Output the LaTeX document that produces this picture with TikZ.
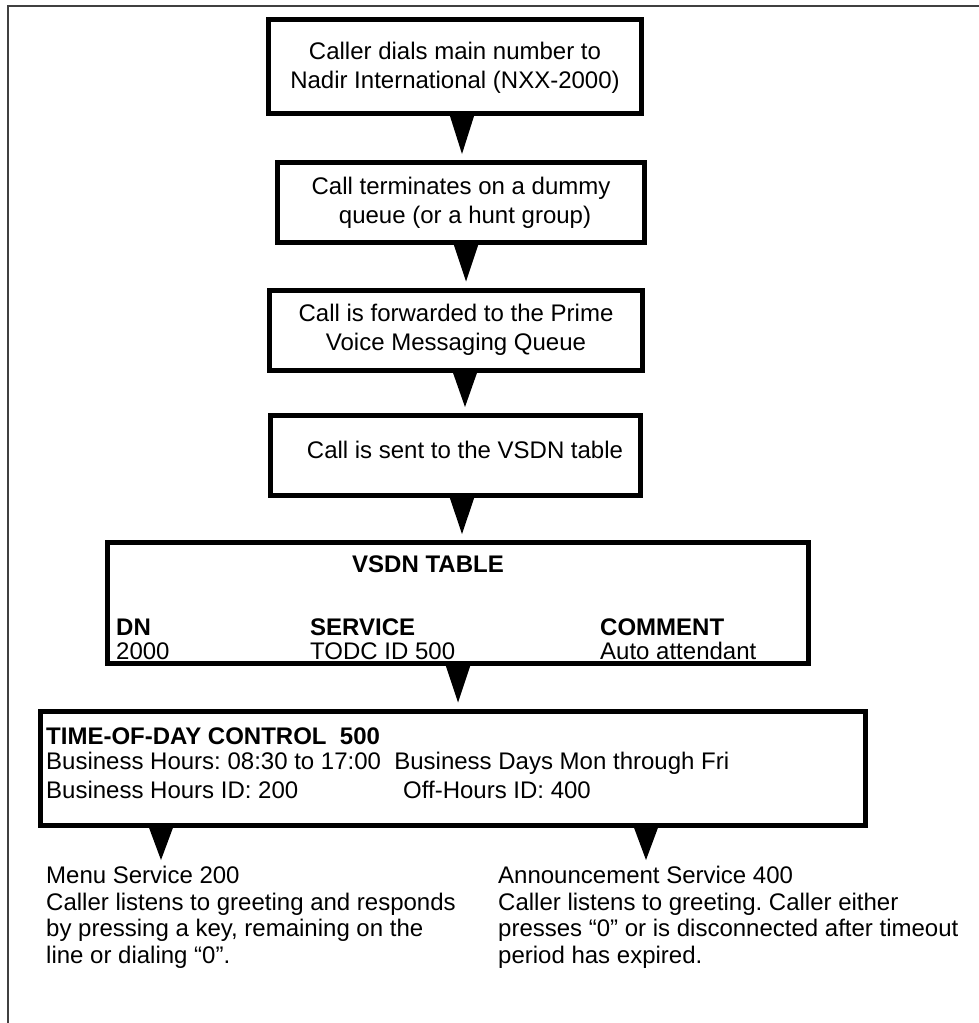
\documentclass[tikz,border=0pt]{standalone}
\usepackage{fontspec}
\setmainfont{Liberation Sans}
\usetikzlibrary{calc}
\frenchspacing
\begin{document}
\begin{tikzpicture}[x=1pt,y=-1pt,
  box/.style={draw,line width=5pt,inner sep=0pt},
  btxt/.style={font=\fontsize{24}{29}\selectfont,align=center,inner sep=0pt},
  ltxt/.style={font=\fontsize{24}{27}\selectfont,align=left,inner sep=0pt,anchor=west},
  htxt/.style={font=\fontsize{24}{27}\selectfont\bfseries,inner sep=0pt,anchor=west},
  frame/.style={line width=2pt,black!75}]
\useasboundingbox (0,0) rectangle (979,1023);
\draw[frame] (8,1023) -- (8,6) -- (979,6);
\newcommand\tri[3]{\fill ($(#1.south -| #3)+(-13,-2.5)$) -- ($(#1.south -| #3)+(13,-2.5)$) -- ($(#2.north -| #3)+(0,-6)$) -- cycle;}

% boxes
\node[box,minimum width=373pt,minimum height=94pt] (b1) at (455,66) {};
\node[btxt] (t1) at (455,68) {Caller dials main number to\\Nadir International (NXX-2000)};

\node[box,minimum width=367pt,minimum height=80pt] (b2) at (461,202.5) {};
\node[btxt] (t2) at (461,202.5) {Call terminates on a dummy\\\hspace*{8pt}queue (or a hunt group)};

\node[box,minimum width=373pt,minimum height=80pt] (b3) at (456,330) {};
\node[btxt] (t3) at (456,330) {Call is forwarded to the Prime\\Voice Messaging Queue};

\node[box,minimum width=370pt,minimum height=80pt] (b4) at (455,455.5) {};
\node[btxt] (t4) at (465,450) {Call is sent to the VSDN table};

\node[box,minimum width=701pt,minimum height=121pt] (b5) at (458,603) {};
\node[htxt] (v0) at (352,564) {VSDN TABLE};
\node[htxt] (v1) at (116,627) {DN};
\node[htxt] (v2) at (310,627) {SERVICE};
\node[htxt] (v3) at (600,627) {COMMENT};
\node[ltxt] (v4) at (116,651) {2000};
\node[ltxt] (v5) at (310,651) {TODC ID 500};
\node[ltxt] (v6) at (600,651) {Auto attendant};

\node[box,minimum width=825pt,minimum height=114pt] (b6) at (453,768) {};
\node[htxt] (d1) at (46,736) {TIME-OF-DAY CONTROL\ \ 500};
\node[ltxt] (d2) at (46,763) {Business Hours: 08:30 to 17:00\ \ Business Days Mon through Fri};
\node[ltxt] (d3) at (46,790) {Business Hours ID: 200};
\node[ltxt] (d4) at (403,790) {Off-Hours ID: 400};

% outputs
\node[ltxt,anchor=north west,font=\fontsize{24}{26.5}\selectfont] (m1) at (46,866) {Menu Service 200\\Caller listens to greeting and responds\\by pressing a key, remaining on the\\line or dialing “0”.};
\node[ltxt,anchor=north west,font=\fontsize{24}{26.5}\selectfont] (m2) at (498,866) {Announcement Service 400\\Caller listens to greeting. Caller either\\presses “0” or is disconnected after timeout\\period has expired.};

% arrows
\coordinate (x1) at (462,0);
\coordinate (x2) at (466,0);
\coordinate (x3) at (465,0);
\coordinate (x4) at (462,0);
\coordinate (x5) at (458,0);
\coordinate (x6) at (161,0);
\coordinate (x7) at (646,0);
\tri{b1}{b2}{x1}
\tri{b2}{b3}{x2}
\tri{b3}{b4}{x3}
\tri{b4}{b5}{x4}
\tri{b5}{b6}{x5}
\tri{b6}{m1}{x6}
\tri{b6}{m2}{x7}
\end{tikzpicture}
\end{document}
